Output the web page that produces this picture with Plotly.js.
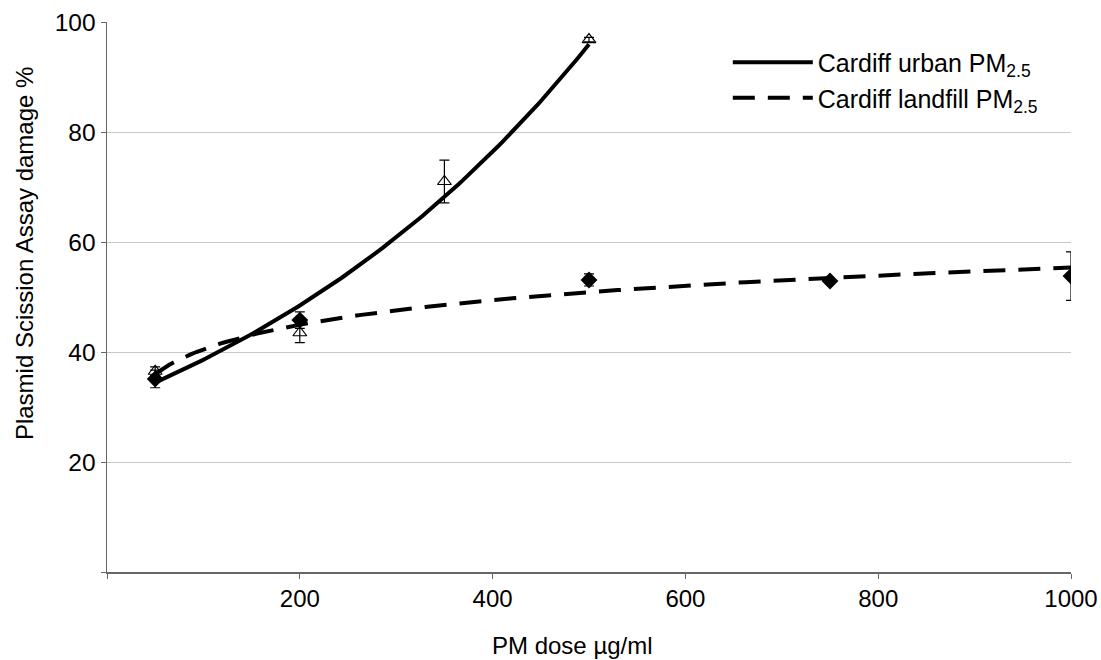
<!DOCTYPE html>
<html>
<head>
<meta charset="utf-8">
<script src="https://cdn.plot.ly/plotly-3.0.1.min.js"></script>
<style>html,body{margin:0;padding:0;background:#fff;}#chart{width:1101px;height:660px;}</style>
</head>
<body>
<div id="chart"></div>
<script>
// Data
const urbanDose = [50, 200, 350, 500];
const urbanDamage = [36.5, 43.5, 71, 96.8];
const urbanErr = [0.8, 1.8, 3.9, 0.4];

const landfillDose = [50, 200, 500, 750, 1000];
const landfillDamage = [35.1, 45.8, 53.1, 52.9, 53.8];
const landfillErr = [1.6, 1.5, 1.1, 0.3, 4.4];

const xTickVals = [200, 400, 600, 800, 1000];
const xTickText = ['200', '400', '600', '800', '1000'];
const yTickVals = [20, 40, 60, 80, 100];
const yTickText = ['20', '40', '60', '80', '100'];

const seriesNames = ['Cardiff urban PM<sub>2.5</sub>', 'Cardiff landfill PM<sub>2.5</sub>'];
const xTitle = 'PM dose µg/ml';
const yTitle = 'Plasmid Scission Assay damage %';

// Least-squares trendlines (as in the original: exponential for urban, logarithmic for landfill)
function linFit(xs, ys) {
  const n = xs.length;
  const mx = xs.reduce((a, b) => a + b, 0) / n;
  const my = ys.reduce((a, b) => a + b, 0) / n;
  let sxy = 0, sxx = 0;
  for (let i = 0; i < n; i++) { sxy += (xs[i] - mx) * (ys[i] - my); sxx += (xs[i] - mx) ** 2; }
  const b = sxy / sxx;
  return { a: my - b * mx, b: b };
}
const expFit = linFit(urbanDose, urbanDamage.map(Math.log));
const logFit = linFit(landfillDose.map(Math.log), landfillDamage);

function sampleRange(lo, hi, n) {
  const out = [];
  for (let i = 0; i <= n; i++) out.push(lo + (hi - lo) * i / n);
  return out;
}
const urbanTrendX = sampleRange(urbanDose[0], urbanDose[urbanDose.length - 1], 120);
const urbanTrendY = urbanTrendX.map(x => Math.exp(expFit.a + expFit.b * x));
const landfillTrendX = sampleRange(landfillDose[0], landfillDose[landfillDose.length - 1], 200);
const landfillTrendY = landfillTrendX.map(x => logFit.a + logFit.b * Math.log(x));

const FONT = '"Liberation Sans", Arial, sans-serif';

const traces = [
  {
    x: urbanTrendX, y: urbanTrendY, mode: 'lines', name: seriesNames[0],
    line: { color: '#000', width: 4, dash: 'solid' }, hoverinfo: 'skip'
  },
  {
    x: landfillTrendX, y: landfillTrendY, mode: 'lines', name: seriesNames[1],
    line: { color: '#000', width: 4, dash: '22px,13px' }, hoverinfo: 'skip'
  },
  {
    x: urbanDose, y: urbanDamage, mode: 'markers', showlegend: false,
    marker: { symbol: 'triangle-up-open', size: 12, color: '#000', line: { width: 1.2, color: '#000' } },
    error_y: { type: 'data', array: urbanErr, visible: true, color: '#000', thickness: 1.2, width: 5 }
  },
  {
    x: landfillDose, y: landfillDamage, mode: 'markers', showlegend: false,
    marker: { symbol: 'diamond', size: 13, color: '#000' },
    error_y: { type: 'data', array: landfillErr, visible: true, color: '#000', thickness: 1.2, width: 5 }
  }
];

const layout = {
  width: 1101, height: 660,
  margin: { l: 107, r: 30, t: 22, b: 88, pad: 0 },
  paper_bgcolor: '#fff', plot_bgcolor: '#fff',
  font: { family: FONT, size: 24, color: '#000' },
  showlegend: true,
  legend: {
    x: 0.644, y: 0.968, xanchor: 'left', yanchor: 'top',
    bgcolor: 'rgba(0,0,0,0)', borderwidth: 0, itemwidth: 80,
    font: { family: FONT, size: 25, color: '#000' }
  },
  xaxis: {
    range: [0, 1000], tickvals: xTickVals, ticktext: xTickText,
    showgrid: false, zeroline: false, showline: true, linecolor: '#666', linewidth: 1.5,
    ticks: 'outside', ticklen: 5, tickcolor: '#666', tickwidth: 1,
    minor: { tickvals: [0], ticks: 'outside', ticklen: 5, tickcolor: '#666', tickwidth: 1, showgrid: false },
    tickfont: { family: FONT, size: 24, color: '#000' }
  },
  yaxis: {
    range: [0, 100], tickvals: yTickVals, ticktext: yTickText,
    showgrid: true, gridcolor: '#c8c8c8', gridwidth: 1, zeroline: false,
    showline: true, linecolor: '#666', linewidth: 1.5,
    ticks: 'outside', ticklen: 5, tickcolor: '#666', tickwidth: 1,
    minor: { tickvals: [0], ticks: 'outside', ticklen: 5, tickcolor: '#666', tickwidth: 1, showgrid: false },
    tickfont: { family: FONT, size: 24.5, color: '#000' }
  },
  annotations: [
    {
      text: xTitle, xref: 'paper', yref: 'paper', x: 0.483, y: -0.133,
      xanchor: 'center', yanchor: 'middle', showarrow: false,
      font: { family: FONT, size: 24, color: '#000' }
    },
    {
      text: yTitle, xref: 'paper', yref: 'paper', x: -0.086, y: 0.58,
      xanchor: 'center', yanchor: 'middle', showarrow: false, textangle: -90,
      font: { family: FONT, size: 24, color: '#000' }
    }
  ]
};

Plotly.newPlot('chart', traces, layout, { displayModeBar: false, staticPlot: true });
</script>
</body>
</html>
